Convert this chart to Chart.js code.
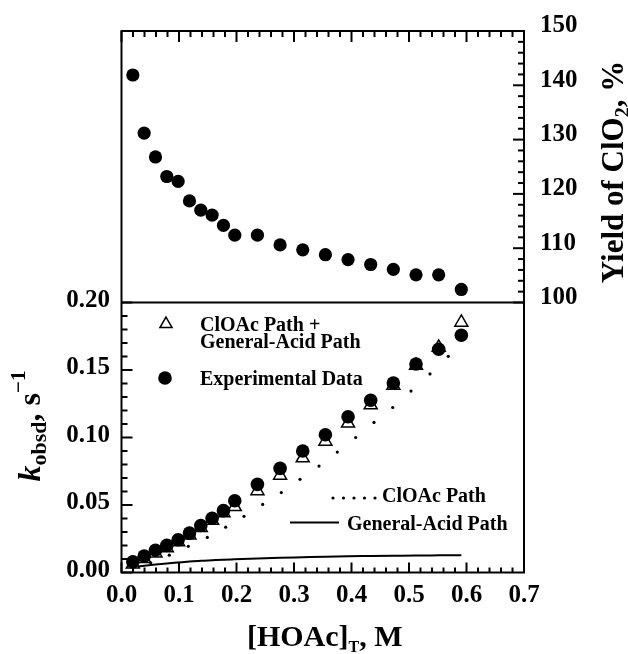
<!DOCTYPE html>
<html><head><meta charset="utf-8">
<script src="https://cdn.jsdelivr.net/npm/chart.js@4.4.1/dist/chart.umd.min.js"></script>
<style>html,body{margin:0;padding:0;background:#fff;}canvas{display:block;}</style>
</head><body>
<canvas id="c" width="628" height="654"></canvas>
<script>
// ---- data ----
const hoac = [0.0197,0.0394,0.0591,0.0788,0.0985,0.1182,0.1379,0.1576,0.1773,0.197,
              0.2364,0.2758,0.3152,0.3546,0.394,0.4334,0.4728,0.5122,0.5516,0.591];
const yieldClO2 = [141.9,131.2,126.8,123.2,122.3,118.7,117.0,116.1,114.2,112.4,
                   112.4,110.6,109.7,108.8,107.9,107.0,106.1,105.1,105.1,102.4];
const kExperimental = [0.0079,0.0121,0.0165,0.0201,0.0243,0.0292,0.0348,0.0402,0.0458,0.0531,
                       0.0653,0.0771,0.0900,0.1020,0.1154,0.1276,0.1403,0.1544,0.1654,0.1757];
const kClOAcPlusGA = [0.0062,0.0102,0.0143,0.0182,0.0226,0.0276,0.0331,0.0386,0.0441,0.0487,
                      0.0604,0.0719,0.0848,0.0971,0.1105,0.1240,0.1386,0.1533,0.1667,0.1852];
const kGeneralAcid = [0.0040,0.0050,0.0059,0.0067,0.0074,0.0081,0.0087,0.0091,0.0095,0.0098,
                      0.0104,0.0109,0.0113,0.0117,0.0120,0.0122,0.0124,0.0126,0.0127,0.0128];
const hoacClOAcDots = [0.0508,0.0831,0.1162,0.1492,0.1812,0.2130,0.2456,0.2779,0.3104,0.3435,
                       0.3753,0.4073,0.4391,0.4717,0.5035,0.5365,0.5683];
const kClOAcDots = [0.0072,0.0128,0.0194,0.0260,0.0336,0.0416,0.0504,0.0592,0.0690,0.0788,
                    0.0892,0.1000,0.1112,0.1222,0.1344,0.1471,0.1601];
const xTickValues = [0,0.1,0.2,0.3,0.4,0.5,0.6,0.7];
const xTickLabels = ['0.0','0.1','0.2','0.3','0.4','0.5','0.6','0.7'];
const kTickValues = [0,0.05,0.10,0.15,0.20];
const kTickLabels = ['0.00','0.05','0.10','0.15','0.20'];
const yieldTickValues = [100,110,120,130,140,150];
const yieldTickLabels = ['100','110','120','130','140','150'];

// ---- layout ----
const W = 628, H = 654;
const TOP = 25, MID = 299.5, BOT = 572.5, LEFT = 121.5, RIGHT = 524;
const kMax = 0.2 * (BOT - TOP) / (BOT - MID);
const yieldMin = 150 - 50 * (BOT - TOP) / (MID - TOP);
const FONT = '"Liberation Serif", "Times New Roman", serif';

const pts = (xs, ys) => xs.map((v, i) => ({x: v, y: ys[i]}));

function line(ctx, x1, y1, x2, y2) { ctx.beginPath(); ctx.moveTo(x1, y1); ctx.lineTo(x2, y2); ctx.stroke(); }
function runs(ctx, x, y, parts, align) {
  let total = 0;
  parts.forEach(p => { ctx.font = p.f; total += ctx.measureText(p.t).width; });
  let cx = align === 'center' ? x - total / 2 : x;
  ctx.textBaseline = 'alphabetic'; ctx.textAlign = 'left';
  parts.forEach(p => { ctx.font = p.f; ctx.fillText(p.t, cx, y + (p.dy || 0)); cx += ctx.measureText(p.t).width; });
}
function tri(ctx, x, y, r) {
  ctx.beginPath();
  for (let i = 0; i < 3; i++) {
    const a = i * 2 * Math.PI / 3;
    const px = x + Math.sin(a) * r, py = y - Math.cos(a) * r;
    if (i === 0) ctx.moveTo(px, py); else ctx.lineTo(px, py);
  }
  ctx.closePath();
}

const decor = {
  id: 'decor',
  afterDatasetsDraw(chart) {
    const {ctx, chartArea: {left, right, top, bottom}, scales: {x, yk, yy}} = chart;
    ctx.save();
    ctx.strokeStyle = '#000'; ctx.fillStyle = '#000'; ctx.lineWidth = 2;
    ctx.strokeRect(left, top, right - left, bottom - top);
    const mid = yk.getPixelForValue(kTickValues[kTickValues.length - 1]);
    line(ctx, left, mid, right, mid);
    for (let i = 0; i <= 35; i++) {
      const px = x.getPixelForValue(i * 0.02), major = i % 5 === 0;
      line(ctx, px, bottom, px, bottom - (major ? 10 : 5));
      line(ctx, px, top, px, top + (major ? 11 : 6));
    }
    for (let i = 0; i <= 20; i++) {
      const py = yk.getPixelForValue(i * 0.01), major = i % 5 === 0;
      line(ctx, left, py, left + (major ? 11 : 6), py);
    }
    for (let i = 0; i <= 25; i++) {
      const py = yy.getPixelForValue(100 + 2 * i), major = i % 5 === 0;
      line(ctx, right, py, right - (major ? 11 : 6), py);
    }
    // legend
    const LF = 'bold 20px ' + FONT;
    ctx.lineWidth = 1.5;
    tri(ctx, 166, 324, 7); ctx.stroke();
    ctx.beginPath(); ctx.arc(165, 378, 6.8, 0, Math.PI * 2); ctx.fill();
    runs(ctx, 200, 331, [{t: 'ClOAc Path +', f: LF}]);
    runs(ctx, 200, 348, [{t: 'General-Acid Path', f: LF}]);
    runs(ctx, 200, 385, [{t: 'Experimental Data', f: LF}]);
    for (let i = 0; i < 5; i++) { ctx.beginPath(); ctx.arc(333 + i * 10.5, 498, 1.6, 0, Math.PI * 2); ctx.fill(); }
    runs(ctx, 382, 502, [{t: 'ClOAc Path', f: LF}]);
    ctx.lineWidth = 2;
    line(ctx, 290, 522.5, 339, 522.5);
    runs(ctx, 347, 530, [{t: 'General-Acid Path', f: LF}]);
    // x title
    runs(ctx, (left + right) / 2 + 2, 646, [
      {t: '[HOAc]', f: 'bold 30px ' + FONT},
      {t: 'T', f: 'bold 16px ' + FONT, dy: 6},
      {t: ', M', f: 'bold 30px ' + FONT}], 'center');
    // left title
    ctx.save(); ctx.translate(40, 426); ctx.rotate(-Math.PI / 2);
    runs(ctx, 0, 0, [
      {t: 'k', f: 'italic bold 32px ' + FONT},
      {t: 'obsd', f: 'bold 22px ' + FONT, dy: 6},
      {t: ', s', f: 'bold 32px ' + FONT},
      {t: '\u22121', f: 'bold 21px ' + FONT, dy: -15}], 'center');
    ctx.restore();
    // right title
    ctx.save(); ctx.translate(623, 172); ctx.rotate(-Math.PI / 2);
    runs(ctx, 0, 0, [
      {t: 'Yield of ClO', f: 'bold 31px ' + FONT},
      {t: '2', f: 'bold 20px ' + FONT, dy: 6},
      {t: ', %', f: 'bold 31px ' + FONT}], 'center');
    ctx.restore();
    ctx.restore();
  }
};

const tickFont = {family: FONT, size: 25, weight: 'bold'};
new Chart(document.getElementById('c'), {
  type: 'scatter',
  data: {
    datasets: [
      {label: 'Experimental Data', data: pts(hoac, kExperimental), yAxisID: 'yk', order: 0,
       pointStyle: 'circle', pointRadius: 6.8, backgroundColor: '#000', borderColor: '#000', borderWidth: 0},
      {label: 'ClOAc Path + General-Acid Path', data: pts(hoac, kClOAcPlusGA), yAxisID: 'yk', order: 1,
       pointStyle: 'triangle', pointRadius: 7.5, backgroundColor: '#fff', borderColor: '#000', borderWidth: 1.5},
      {label: 'ClOAc Path', data: pts(hoacClOAcDots, kClOAcDots), yAxisID: 'yk', order: 2,
       pointStyle: 'circle', pointRadius: 1.6, backgroundColor: '#000', borderColor: '#000', borderWidth: 0},
      {label: 'General-Acid Path', data: pts(hoac, kGeneralAcid), yAxisID: 'yk', order: 3, showLine: true,
       pointRadius: 0, borderColor: '#000', borderWidth: 2, cubicInterpolationMode: 'monotone', fill: false},
      {label: 'Yield of ClO2', data: pts(hoac, yieldClO2), yAxisID: 'yy', order: 0,
       pointStyle: 'circle', pointRadius: 6.6, backgroundColor: '#000', borderColor: '#000', borderWidth: 0}
    ]
  },
  options: {
    responsive: false, animation: false, devicePixelRatio: 1,
    layout: {padding: {top: TOP, left: 0, right: 0, bottom: 0}},
    plugins: {legend: {display: false}, tooltip: {enabled: false}},
    scales: {
      x: {type: 'linear', position: 'bottom', min: 0, max: 0.7,
          grid: {display: false, drawTicks: false}, border: {display: false},
          afterBuildTicks: s => { s.ticks = xTickValues.map(v => ({value: v})); },
          ticks: {font: tickFont, color: '#000', padding: 8, maxRotation: 0,
                  callback: (v) => xTickLabels[xTickValues.findIndex(t => Math.abs(t - v) < 1e-9)]},
          afterFit: s => { s.height = H - BOT; }},
      yk: {type: 'linear', position: 'left', min: 0, max: kMax,
          grid: {display: false, drawTicks: false}, border: {display: false},
          afterBuildTicks: s => { s.ticks = kTickValues.map(v => ({value: v})); },
          ticks: {font: tickFont, color: '#000', padding: 11.5, labelOffset: -2,
                  callback: (v) => kTickLabels[kTickValues.findIndex(t => Math.abs(t - v) < 1e-9)]},
          afterFit: s => { s.width = LEFT; }},
      yy: {type: 'linear', position: 'right', min: yieldMin, max: 150,
          grid: {display: false, drawTicks: false}, border: {display: false},
          afterBuildTicks: s => { s.ticks = yieldTickValues.map(v => ({value: v})); },
          ticks: {font: tickFont, color: '#000', padding: 16, labelOffset: -5,
                  callback: (v) => yieldTickLabels[yieldTickValues.findIndex(t => Math.abs(t - v) < 1e-9)]},
          afterFit: s => { s.width = W - RIGHT; }}
    }
  },
  plugins: [decor]
});
</script>
</body></html>
